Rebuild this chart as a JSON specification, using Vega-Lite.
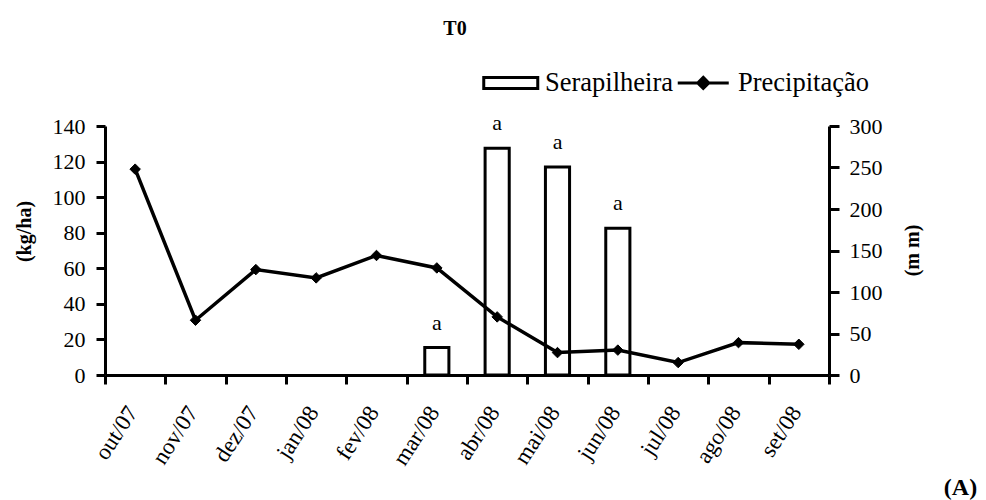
{
  "$schema": "https://vega.github.io/schema/vega-lite/v6.json",
  "width": 724,
  "height": 249,
  "autosize": {"type": "none"},
  "padding": {"left": 105, "top": 126, "right": 157, "bottom": 125},
  "background": "white",
  "config": {
    "font": "Liberation Serif",
    "view": {"stroke": null},
    "axis": {
      "domainColor": "black",
      "domainWidth": 3,
      "tickColor": "black",
      "tickWidth": 3,
      "labelColor": "black",
      "titleColor": "black",
      "labelFont": "Liberation Serif",
      "titleFont": "Liberation Serif",
      "labelOverlap": false,
      "grid": false
    }
  },
  "title": {
    "text": "T0",
    "font": "Liberation Serif",
    "fontSize": 20,
    "fontWeight": "bold",
    "color": "black",
    "anchor": "middle",
    "dx": -12,
    "offset": 31
  },
  "datasets": {
    "main": [
      {"mes": "out/07", "precipitacao": 248, "serapilheira": null, "letra": null},
      {"mes": "nov/07", "precipitacao": 66, "serapilheira": null, "letra": null},
      {"mes": "dez/07", "precipitacao": 127, "serapilheira": null, "letra": null},
      {"mes": "jan/08", "precipitacao": 117, "serapilheira": null, "letra": null},
      {"mes": "fev/08", "precipitacao": 144, "serapilheira": null, "letra": null},
      {"mes": "mar/08", "precipitacao": 129, "serapilheira": 15.4, "letra": "a"},
      {"mes": "abr/08", "precipitacao": 70, "serapilheira": 127.5, "letra": "a"},
      {"mes": "mai/08", "precipitacao": 27, "serapilheira": 117, "letra": "a"},
      {"mes": "jun/08", "precipitacao": 30, "serapilheira": 82.5, "letra": "a"},
      {"mes": "jul/08", "precipitacao": 15, "serapilheira": null, "letra": null},
      {"mes": "ago/08", "precipitacao": 39, "serapilheira": null, "letra": null},
      {"mes": "set/08", "precipitacao": 37, "serapilheira": null, "letra": null}
    ],
    "legenda": [
      {"serie": "Serapilheira"},
      {"serie": "Precipitação"}
    ]
  },
  "layer": [
    {
      "data": {"name": "main"},
      "layer": [
        {
          "mark": {"type": "bar", "fill": "white", "stroke": "black", "strokeWidth": 3, "width": {"band": 0.4}},
          "encoding": {
            "x": {
              "field": "mes",
              "type": "ordinal",
              "sort": null,
              "scale": {
                "domain": ["out/07", "nov/07", "dez/07", "jan/08", "fev/08", "mar/08", "abr/08", "mai/08", "jun/08", "jul/08", "ago/08", "set/08"],
                "paddingInner": 0,
                "paddingOuter": 0
              },
              "axis": {
                "tickBand": "extent",
                "tickSize": 9,
                "labelAngle": -57,
                "labelAlign": "right",
                "labelBaseline": "middle",
                "labelFontSize": 23,
                "labelPadding": 24,
                "labelOffset": -3,
                "title": "(A)",
                "titleFontSize": 24,
                "titleFontWeight": "bold",
                "titleAngle": 0,
                "titleAlign": "center",
                "titleBaseline": "middle",
                "titleX": 855,
                "titleY": 112
              }
            },
            "y": {
              "field": "serapilheira",
              "type": "quantitative",
              "scale": {"domain": [0, 140], "nice": false},
              "axis": {
                "orient": "left",
                "values": [0, 20, 40, 60, 80, 100, 120, 140],
                "tickSize": 9,
                "labelPadding": 11,
                "labelFontSize": 22,
                "labelOverlap": false,
                "title": "(kg/ha)",
                "titleFontSize": 20,
                "titleFontWeight": "bold",
                "titleAngle": -90,
                "titleAlign": "center",
                "titleBaseline": "middle",
                "titleX": -81,
                "titleY": 105
              }
            }
          }
        },
        {
          "mark": {"type": "text", "baseline": "alphabetic", "dy": -18, "fontSize": 22, "font": "Liberation Serif", "color": "black"},
          "encoding": {
            "x": {"field": "mes", "type": "ordinal", "sort": null},
            "y": {
              "field": "serapilheira",
              "type": "quantitative",
              "axis": {
                "orient": "left",
                "values": [0, 20, 40, 60, 80, 100, 120, 140],
                "tickSize": 9,
                "labelPadding": 11,
                "labelFontSize": 22,
                "labelOverlap": false,
                "title": "(kg/ha)",
                "titleFontSize": 20,
                "titleFontWeight": "bold",
                "titleAngle": -90,
                "titleAlign": "center",
                "titleBaseline": "middle",
                "titleX": -81,
                "titleY": 105
              }
            },
            "text": {"field": "letra"}
          }
        }
      ]
    },
    {
      "data": {"name": "main"},
      "layer": [
        {
          "mark": {"type": "line", "stroke": "black", "strokeWidth": 3.5},
          "encoding": {
            "x": {"field": "mes", "type": "ordinal", "sort": null},
            "y": {
              "field": "precipitacao",
              "type": "quantitative",
              "scale": {"domain": [0, 300], "nice": false},
              "axis": {
                "orient": "right",
                "values": [0, 50, 100, 150, 200, 250, 300],
                "tickSize": 10,
                "labelPadding": 10,
                "labelFontSize": 22,
                "labelOverlap": false,
                "title": "(m m)",
                "titleFontSize": 20,
                "titleFontWeight": "bold",
                "titleAngle": -90,
                "titleAlign": "center",
                "titleBaseline": "middle",
                "titleX": 83,
                "titleY": 124
              }
            }
          }
        },
        {
          "mark": {"type": "point", "shape": "diamond", "filled": true, "fill": "black", "stroke": "black", "strokeWidth": 1, "size": 110, "opacity": 1},
          "encoding": {
            "x": {"field": "mes", "type": "ordinal", "sort": null},
            "y": {"field": "precipitacao", "type": "quantitative"}
          }
        }
      ]
    },
    {
      "data": {"name": "legenda"},
      "mark": {"type": "point", "filled": true, "strokeWidth": 3, "size": 0},
      "encoding": {
        "shape": {
          "field": "serie",
          "type": "nominal",
          "scale": {
            "domain": ["Serapilheira", "Precipitação"],
            "range": ["M-2.7,-0.55H2.7V0.55H-2.7Z", "M-2.6,0H2.5M-0.05,-0.55L0.5,0L-0.05,0.55L-0.6,0Z"]
          },
          "legend": {
            "orient": "none",
            "legendX": 392.5,
            "legendY": -56.5,
            "direction": "horizontal",
            "title": null,
            "labelFont": "Liberation Serif",
            "labelFontSize": 26.5,
            "labelColor": "black",
            "symbolSize": 400,
            "symbolOpacity": 1,
            "symbolStrokeWidth": 3,
            "labelOffset": 21,
            "columnPadding": -2,
            "padding": 0,
            "labelLimit": 300
          }
        },
        "fill": {
          "field": "serie",
          "type": "nominal",
          "scale": {"domain": ["Serapilheira", "Precipitação"], "range": ["white", "black"]},
          "legend": {
            "orient": "none",
            "legendX": 392.5,
            "legendY": -56.5,
            "direction": "horizontal",
            "title": null,
            "labelFont": "Liberation Serif",
            "labelFontSize": 26.5,
            "labelColor": "black",
            "symbolSize": 400,
            "symbolOpacity": 1,
            "symbolStrokeWidth": 3,
            "labelOffset": 21,
            "columnPadding": -2,
            "padding": 0,
            "labelLimit": 300
          }
        },
        "stroke": {
          "field": "serie",
          "type": "nominal",
          "scale": {"domain": ["Serapilheira", "Precipitação"], "range": ["black", "black"]},
          "legend": {
            "orient": "none",
            "legendX": 392.5,
            "legendY": -56.5,
            "direction": "horizontal",
            "title": null,
            "labelFont": "Liberation Serif",
            "labelFontSize": 26.5,
            "labelColor": "black",
            "symbolSize": 400,
            "symbolOpacity": 1,
            "symbolStrokeWidth": 3,
            "labelOffset": 21,
            "columnPadding": -2,
            "padding": 0,
            "labelLimit": 300
          }
        }
      }
    }
  ],
  "resolve": {"scale": {"y": "independent"}}
}
